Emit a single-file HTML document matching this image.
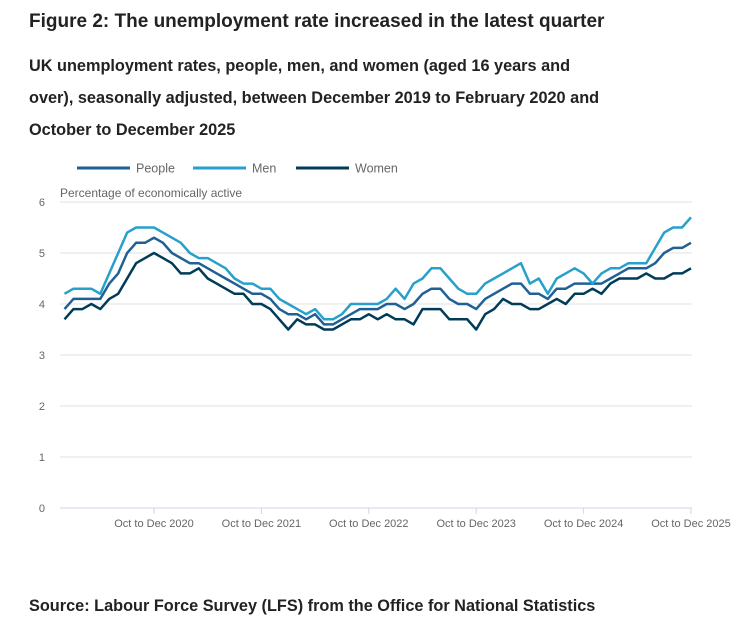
<!DOCTYPE html>
<html><head><meta charset="utf-8"><style>
body{margin:0;background:#fff;font-family:"Liberation Sans",sans-serif;color:#222;}
.wrap{position:relative;width:753px;height:628px;overflow:hidden;}
h1{position:absolute;left:29px;top:11px;margin:0;font-size:19px;font-weight:bold;color:#222;white-space:nowrap;}
h2{position:absolute;left:29px;top:50px;margin:0;font-size:16.3px;font-weight:bold;line-height:32px;width:700px;color:#222;white-space:nowrap;}
.src{position:absolute;left:29px;top:597px;font-size:16.3px;font-weight:bold;color:#222;white-space:nowrap;}
svg{position:absolute;left:0;top:0;}
</style></head><body>
<div class="wrap">
<h1>Figure 2: The unemployment rate increased in the latest quarter</h1>
<h2>UK unemployment rates, people, men, and women (aged 16 years and<br>over), seasonally adjusted, between December 2019 to February 2020 and<br>October to December 2025</h2>
<svg id="chart" width="753" height="628"></svg>
<div class="src">Source: Labour Force Survey (LFS) from the Office for National Statistics</div>
</div>
<script>
const people=[3.9,4.1,4.1,4.1,4.1,4.4,4.6,5.0,5.2,5.2,5.3,5.2,5.0,4.9,4.8,4.8,4.7,4.6,4.5,4.4,4.3,4.2,4.2,4.1,3.9,3.8,3.8,3.7,3.8,3.6,3.6,3.7,3.8,3.9,3.9,3.9,4.0,4.0,3.9,4.0,4.2,4.3,4.3,4.1,4.0,4.0,3.9,4.1,4.2,4.3,4.4,4.4,4.2,4.2,4.1,4.3,4.3,4.4,4.4,4.4,4.4,4.5,4.6,4.7,4.7,4.7,4.8,5.0,5.1,5.1,5.2];
const men=[4.2,4.3,4.3,4.3,4.2,4.6,5.0,5.4,5.5,5.5,5.5,5.4,5.3,5.2,5.0,4.9,4.9,4.8,4.7,4.5,4.4,4.4,4.3,4.3,4.1,4.0,3.9,3.8,3.9,3.7,3.7,3.8,4.0,4.0,4.0,4.0,4.1,4.3,4.1,4.4,4.5,4.7,4.7,4.5,4.3,4.2,4.2,4.4,4.5,4.6,4.7,4.8,4.4,4.5,4.2,4.5,4.6,4.7,4.6,4.4,4.6,4.7,4.7,4.8,4.8,4.8,5.1,5.4,5.5,5.5,5.7];
const women=[3.7,3.9,3.9,4.0,3.9,4.1,4.2,4.5,4.8,4.9,5.0,4.9,4.8,4.6,4.6,4.7,4.5,4.4,4.3,4.2,4.2,4.0,4.0,3.9,3.7,3.5,3.7,3.6,3.6,3.5,3.5,3.6,3.7,3.7,3.8,3.7,3.8,3.7,3.7,3.6,3.9,3.9,3.9,3.7,3.7,3.7,3.5,3.8,3.9,4.1,4.0,4.0,3.9,3.9,4.0,4.1,4.0,4.2,4.2,4.3,4.2,4.4,4.5,4.5,4.5,4.6,4.5,4.5,4.6,4.6,4.7];
const yTicks=[0,1,2,3,4,5,6];
const xTickIdx=[10,22,34,46,58,70];
const xTickLabels=["Oct to Dec 2020","Oct to Dec 2021","Oct to Dec 2022","Oct to Dec 2023","Oct to Dec 2024","Oct to Dec 2025"];
const seriesNames=["People","Men","Women"];
const colors=["#206095","#27a0cc","#003c57"];

const svg=document.getElementById('chart');
const NS='http://www.w3.org/2000/svg';
const x=i=>64.5+i*8.95;
const y=v=>508-v*51;
function mk(t,a){const e=document.createElementNS(NS,t);for(const k in a)e.setAttribute(k,a[k]);svg.appendChild(e);return e;}

yTicks.forEach(v=>{
  const l=mk('line',{x1:60,x2:692,y1:y(v),y2:y(v),stroke:v===0?'#cfd6e3':'#e2e2e2','stroke-width':1});
  
  
  const t=mk('text',{x:45,y:y(v)+4,'font-size':11,fill:'#666','text-anchor':'end'});
  t.textContent=v;
  
  
});
xTickIdx.forEach((idx,k)=>{
  const l=mk('line',{x1:x(idx),x2:x(idx),y1:508,y2:514,stroke:'#cfd6e3'});
  
  
  const t=mk('text',{x:x(idx),y:527,'font-size':11,fill:'#666','text-anchor':'middle'});
  t.textContent=xTickLabels[k];
  
  
});
const yt=mk('text',{x:60,y:197,'font-size':12,fill:'#666'});
yt.textContent='Percentage of economically active';



[people,men,women].forEach((d,s)=>{
  const p=mk('polyline',{points:d.map((v,i)=>x(i)+','+y(v)).join(' '),fill:'none',stroke:colors[s],'stroke-width':2.5,'stroke-linejoin':'round'});
  
  
});

const legX=[77,193,296];
seriesNames.forEach((n,s)=>{
  const l=mk('line',{x1:legX[s],x2:legX[s]+53,y1:168,y2:168,stroke:colors[s],'stroke-width':3});
  
  
  const t=mk('text',{x:legX[s]+59,y:172.5,'font-size':12.5,fill:'#666'});
  t.textContent=n;
  
  
});
</script>
</body></html>
